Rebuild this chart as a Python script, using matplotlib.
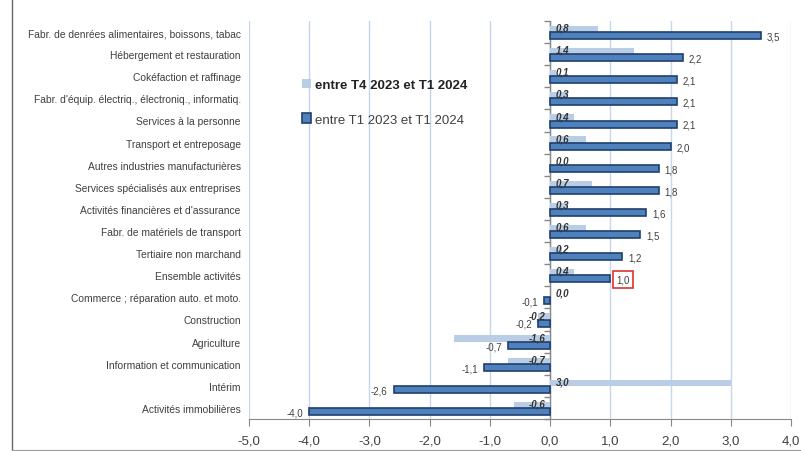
import matplotlib.pyplot as plt
import numpy as np

plt.rcParams['font.family'] = ['Liberation Sans Narrow', 'Liberation Sans', 'DejaVu Sans']

categories = ['Fabr. de denrées alimentaires, boissons, tabac',
              'Hébergement et restauration',
              'Cokéfaction et raffinage',
              "Fabr. d'équip. électriq., électroniq., informatiq.",
              'Services à la personne',
              'Transport et entreposage',
              'Autres industries manufacturières',
              'Services spécialisés aux entreprises',
              "Activités financières et d'assurance",
              'Fabr. de matériels de transport',
              'Tertiaire non marchand',
              'Ensemble activités',
              'Commerce ; réparation auto. et moto.',
              'Construction',
              'Agriculture',
              'Information et communication',
              'Intérim',
              'Activités immobilières']
trim = [0.8, 1.4, 0.1, 0.3, 0.4, 0.6, 0.0, 0.7, 0.3, 0.6, 0.2, 0.4,
        0.0, -0.2, -1.6, -0.7, 3.0, -0.6]
year = [3.5, 2.2, 2.1, 2.1, 2.1, 2.0, 1.8, 1.8, 1.6, 1.5, 1.2, 1.0,
        -0.1, -0.2, -0.7, -1.1, -2.6, -4.0]
xticks = np.arange(-5, 5)

light = '#B9CDE5'
dark = '#4F81BD'
edge = '#1F3F6E'
txt = '#404040'

fig = plt.figure(figsize=(8.01, 4.52), dpi=100)
ax = fig.add_axes([249/801, 1 - 420/452, 542/801, 398/452])

y = np.arange(len(categories))
ax.barh(y - 0.14, trim, height=0.28, color=light, zorder=2,
        label='entre T4 2023 et T1 2024')
ax.barh(y + 0.16, year, height=0.32, color=dark, edgecolor=edge,
        linewidth=1.2, zorder=3, label='entre T1 2023 et T1 2024')

def fr(v):
    return ('%.1f' % v).replace('.', ',')

for i, (a, b) in enumerate(zip(trim, year)):
    # quarterly change: bold italic near the zero line
    if a >= 0:
        ax.text(0.09, i - 0.2, fr(a), fontsize=7, fontweight='bold',
                style='italic', color='#333333', ha='left', va='center', zorder=4)
    else:
        ax.text(-0.07, i - 0.2, fr(a), fontsize=7, fontweight='bold',
                style='italic', color='#333333', ha='right', va='center', zorder=4)
    # annual change: beside the end of the bar
    if b >= 0:
        t = ax.text(b + 0.1, i + 0.2, fr(b), fontsize=7, color=txt,
                    ha='left', va='center', zorder=4)
    else:
        t = ax.text(b - 0.1, i + 0.2, fr(b), fontsize=7, color=txt,
                    ha='right', va='center', zorder=4)
    if categories[i] == 'Ensemble activités':
        t.set_bbox(dict(boxstyle='square,pad=0.35', fc='white', ec='#E03030', lw=1.2))

ax.set_ylim(len(categories) - 0.5, -0.5)
ax.set_xlim(-5, 4)
ax.set_xticks(xticks)
ax.set_xticklabels([fr(v) for v in xticks], fontsize=9.5, color=txt)
ax.set_yticks(y)
ax.set_yticklabels(categories, fontsize=7.4, color=txt)
ax.tick_params(axis='y', length=0, pad=6)
ax.tick_params(axis='x', length=5, color='#888888', pad=6, direction='out')

ax.grid(axis='x', color='#C6D7EC', lw=1, zorder=0)
ax.set_axisbelow(True)
for s in ['top', 'right', 'left']:
    ax.spines[s].set_visible(False)
ax.spines['bottom'].set_color('#888888')
ax.axvline(0, color='#888888', lw=1, zorder=1)
bounds = np.arange(len(categories) + 1) - 0.5
ax.plot(np.zeros(len(bounds)), bounds, ls='none', marker=0, ms=4,
        color='#888888', clip_on=False)

ax.legend(loc='upper left', bbox_to_anchor=(0.076, 0.885), frameon=False,
          fontsize=9.5, handlelength=0.7, handleheight=0.7, handletextpad=0.3,
          labelspacing=1.7, labelcolor=txt)
leg = ax.get_legend()
leg.get_texts()[0].set_fontweight('bold')
leg.get_texts()[0].set_color('#222222')

# outer frame of the chart
fig.add_artist(plt.Line2D([12/801, 12/801], [0, 1], color='#666666', lw=1))
fig.add_artist(plt.Line2D([12/801, 1], [1/452, 1/452], color='#999999', lw=0.8))

fig.savefig('out.png', dpi=100)
